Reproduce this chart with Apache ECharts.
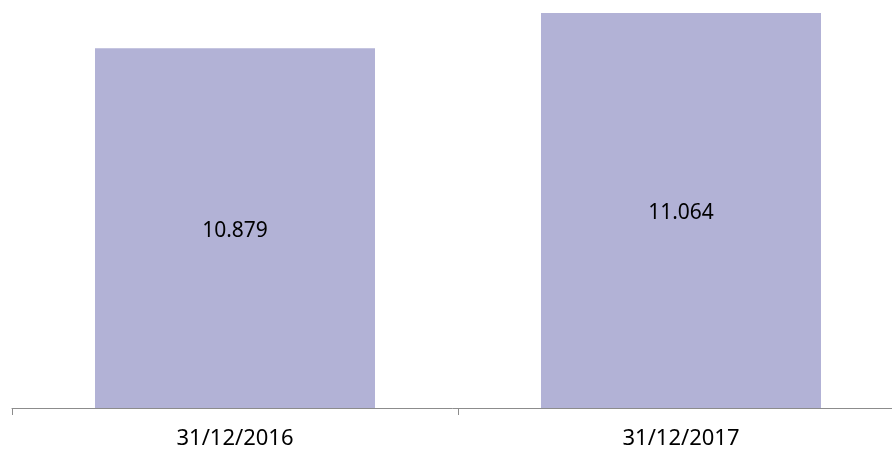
<!DOCTYPE html>
<html>
<head>
<meta charset="utf-8">
<script src="https://cdn.jsdelivr.net/npm/echarts@6/dist/echarts.min.js"></script>
<style>
  html, body { margin: 0; padding: 0; background: #fff; }
  #chart { width: 892px; height: 450px; }
</style>
</head>
<body>
<div id="chart"></div>
<script>
// dates and values
const categories = ["31/12/2016", "31/12/2017"];
const values = [10879, 11064];

const chart = echarts.init(document.getElementById("chart"));

// thousands with a dot, as in the original
const fmt = (v) => String(v).replace(/\B(?=(\d{3})+(?!\d))/g, ".");

const option = {
  animation: false,
  // the axis runs past the right edge, so let the grid overflow
  grid: { left: 12, right: -12, top: 6, bottom: 42, outerBoundsMode: "none" },
  xAxis: {
    type: "category",
    data: categories,
    axisLine: { lineStyle: { color: "#8c8c8c", width: 1 } },
    axisTick: { show: true, length: 7, lineStyle: { color: "#8c8c8c" } },
    axisLabel: {
      color: "#000",
      fontSize: 22,
      fontFamily: "Noto Sans",
      margin: 20,
    },
  },
  yAxis: {
    type: "value",
    min: 9000,
    max: 11100,
    show: false,
    splitLine: { show: false },
  },
  series: [
    {
      type: "bar",
      data: values,
      barWidth: 280,
      itemStyle: { color: "#b2b2d6" },
      label: {
        show: true,
        position: "inside",
        offset: [0, 3],
        color: "#000",
        fontSize: 21,
        fontFamily: "Noto Sans",
        formatter: (p) => fmt(p.value),
      },
    },
  ],
};
chart.setOption(option);
</script>
</body>
</html>
